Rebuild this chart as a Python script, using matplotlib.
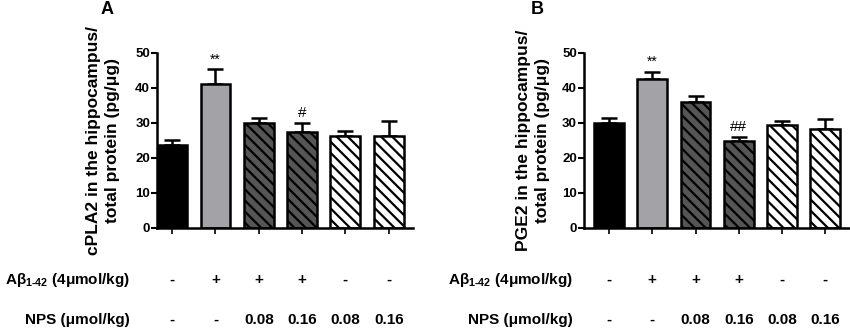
import matplotlib
matplotlib.use('Agg')
import matplotlib.pyplot as plt
import numpy as np

plt.rcParams['font.family'] = ['Liberation Sans', 'DejaVu Sans']
plt.rcParams['font.weight'] = 'bold'
plt.rcParams['mathtext.fontset'] = 'custom'
plt.rcParams['mathtext.rm'] = 'Liberation Sans:bold'
plt.rcParams['mathtext.bf'] = 'Liberation Sans:bold'
plt.rcParams['hatch.linewidth'] = 1.6

# --- Data ---
groups = ['Control', 'Abeta', 'Abeta+NPS0.08', 'Abeta+NPS0.16', 'NPS0.08', 'NPS0.16']
cpla2_mean = [23.6, 41.0, 30.1, 27.3, 26.4, 26.4]
cpla2_err = [1.4, 4.3, 1.4, 2.8, 1.3, 4.2]
pge2_mean = [29.9, 42.5, 36.1, 24.8, 29.3, 28.2]
pge2_err = [1.6, 2.1, 1.7, 1.2, 1.4, 3.0]
cpla2_marks = ['', '**', '', '#', '', '']
pge2_marks = ['', '**', '', '##', '', '']
abeta_row = ['-', '+', '+', '+', '-', '-']
nps_row = ['-', '-', '0.08', '0.16', '0.08', '0.16']

face_colors = ['black', '#a3a3a7', '#555555', '#555555', 'white', 'white']
hatches = [None, None, '\\\\\\', '\\\\\\', '\\\\\\', '\\\\\\']

abeta_label = 'A\u03b2' + r'$_{\mathrm{1\text{-}42}}$' + ' (4\u03bcmol/kg)'
nps_label = 'NPS (\u03bcmol/kg)'


def draw_panel(ax, means, errs, marks, ylabel, xlim, label_x):
    x = np.arange(len(means))
    for i in range(len(means)):
        ax.bar(x[i], means[i], 0.69, color=face_colors[i], edgecolor='black',
               linewidth=1.8, hatch=hatches[i], zorder=2)
    ax.errorbar(x, means, yerr=[np.zeros(len(errs)), errs], fmt='none',
                ecolor='black', elinewidth=1.8, capsize=5.5, capthick=1.8, zorder=1)
    for i, m in enumerate(marks):
        if m:
            ax.text(x[i], means[i] + errs[i] + 0.8, m, ha='center', va='bottom',
                    fontsize=11 if '#' in m else 10, fontweight='normal')
    ax.set_ylim(0, 50)
    ax.set_xlim(*xlim)
    ax.set_yticks([0, 10, 20, 30, 40, 50])
    ax.set_xticks(x)
    ax.set_xticklabels([])
    ax.tick_params(axis='y', labelsize=9.5, width=1.5, length=4, pad=1)
    ax.tick_params(axis='x', width=1.2, length=4)
    for s in ['top', 'right']:
        ax.spines[s].set_visible(False)
    for s in ['left', 'bottom']:
        ax.spines[s].set_linewidth(1.8)
    ax.set_ylabel(ylabel, fontsize=12.5, fontweight='bold', linespacing=1.3)
    ax.yaxis.set_label_coords(label_x, 0.5)

    tr = ax.get_xaxis_transform()
    for i in range(len(x)):
        ax.text(x[i], -0.297, abeta_row[i], transform=tr, ha='center', va='center',
                fontsize=11, clip_on=False)
        ax.text(x[i], -0.526, nps_row[i], transform=tr, ha='center', va='center',
                fontsize=11, clip_on=False)


fig = plt.figure(figsize=(8.5, 3.29), dpi=100)
ax_a = fig.add_axes([0.1847, 0.307, 0.3012, 0.532])
ax_b = fig.add_axes([0.687, 0.307, 0.313, 0.532])

draw_panel(ax_a, cpla2_mean, cpla2_err, cpla2_marks,
           'cPLA2 in the hippocampus/\ntotal protein (pg/\u03bcg)', (-0.35, 5.56), -0.145)
draw_panel(ax_b, pge2_mean, pge2_err, pge2_marks,
           'PGE2 in the hippocampus/\ntotal protein (pg/\u03bcg)', (-0.58, 5.57), -0.128)

fig.text(107 / 850, 1 - 10 / 329, 'A', fontsize=13, ha='center', va='center')
fig.text(537 / 850, 1 - 10 / 329, 'B', fontsize=13, ha='center', va='center')

for xr in [130 / 850, 573 / 850]:
    fig.text(xr, 1 - 280 / 329, abeta_label, fontsize=11, ha='right', va='center')
    fig.text(xr, 1 - 320 / 329, nps_label, fontsize=11, ha='right', va='center')

fig.savefig('out.png', dpi=100)
